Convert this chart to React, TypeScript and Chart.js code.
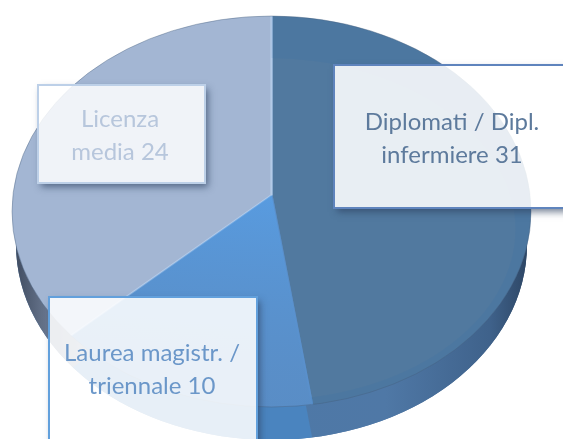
import React, { useEffect, useRef } from "react";
import { Chart, registerables } from "chart.js";

Chart.register(...registerables);

const categories = ["Diplomati / Dipl. infermiere", "Laurea magistr. / triennale", "Licenza media"];
const values = [31, 10, 24];
const labelLines = [
  ["Diplomati / Dipl.", "infermiere 31"],
  ["Laurea magistr. /", "triennale 10"],
  ["Licenza", "media 24"],
];
const topColors = ["#51799f", "#5a8ec8", "#a3b6d3"];
const borderColors = ["#5585b5", "#5a90cc", "#b4cbe8"];
const textColors = ["#5d7a9c", "#6b97c9", "#b7c6dc"];
const boxBorders = ["#5f84bd", "#62a0dc", "#bdd0e8"];
const boxAlpha = [0.87, 0.87, 0.84];
const boxes = [
  { x: 334, y: 65, w: 240, h: 143, tx: 452, ty: 122 },
  { x: 49, y: 297, w: 208, h: 160, tx: 152, ty: 353 },
  { x: 38, y: 85, w: 167, h: 98, tx: 120, ty: 119 },
];
const LINE_GAP = 33;
const G = { cx: 271.5, cy: 211.5, rx: 259.5, ry: 195.5, apexY: 195, depth: 33, sideRx: 255.5, over: 1.25 };

function sideFill(ctx: CanvasRenderingContext2D, i: number) {
  const g = ctx.createLinearGradient(G.cx - G.rx, 0, G.cx + G.rx, 0);
  if (i === 0) {
    g.addColorStop(0, "#4b78a8");
    g.addColorStop(0.72, "#4f78a6");
    g.addColorStop(0.92, "#3f628b");
    g.addColorStop(1, "#2c4462");
  } else if (i === 1) {
    g.addColorStop(0, "#4a84bf");
    g.addColorStop(1, "#4a84bf");
  } else {
    g.addColorStop(0, "#3c485c");
    g.addColorStop(0.07, "#6a7890");
    g.addColorStop(0.2, "#8c9bb4");
    g.addColorStop(1, "#8c9bb4");
  }
  return g;
}

function applyFace(ctx: CanvasRenderingContext2D, arc: any, dy: number) {
  const k = G.over;
  ctx.translate(G.cx, G.apexY + dy);
  ctx.scale((G.rx * k) / arc.outerRadius, (G.ry * k) / arc.outerRadius);
  ctx.translate(-arc.x, -arc.y);
}

function sectorClip(ctx: CanvasRenderingContext2D, arc: any, dy: number) {
  ctx.save();
  applyFace(ctx, arc, dy);
  ctx.beginPath();
  ctx.moveTo(arc.x, arc.y);
  ctx.arc(arc.x, arc.y, arc.outerRadius, arc.startAngle, arc.endAngle);
  ctx.closePath();
  ctx.restore();
  ctx.clip();
}

const piePlugin = {
  id: "tiltedPie",
  beforeDatasetsDraw(chart: any) {
    const ctx: CanvasRenderingContext2D = chart.ctx;
    const arcs = chart.getDatasetMeta(0).data;
    ctx.save();
    ctx.beginPath();
    ctx.ellipse(G.cx, G.cy + G.depth, G.sideRx, G.ry, 0, 0, Math.PI * 2);
    ctx.clip();
    ctx.fillStyle = sideFill(ctx, 0);
    ctx.fillRect(0, 0, 563, 480);
    arcs.forEach((arc: any, i: number) => {
      ctx.save();
      sectorClip(ctx, arc, G.depth);
      ctx.fillStyle = sideFill(ctx, i);
      ctx.fillRect(0, 0, 563, 480);
      ctx.restore();
    });
    ctx.restore();
    ctx.save();
    ctx.beginPath();
    ctx.ellipse(G.cx, G.cy, G.rx, G.ry, 0, 0, Math.PI * 2);
    ctx.clip();
    applyFace(ctx, arcs[0], 0);
  },
  afterDatasetsDraw(chart: any) {
    const ctx: CanvasRenderingContext2D = chart.ctx;
    const arcs = chart.getDatasetMeta(0).data;
    ctx.restore();

    ctx.save();
    ctx.beginPath();
    ctx.ellipse(G.cx, G.cy, G.rx, G.ry, 0, 0, Math.PI * 2);
    ctx.clip();
    ctx.save();
    sectorClip(ctx, arcs[0], 0);
    ctx.beginPath();
    ctx.rect(0, 0, 563, 439);
    ctx.ellipse(G.cx - 4, 229, 248, 171, 0, 0, Math.PI * 2);
    ctx.fillStyle = "rgba(40,110,175,0.1)";
    ctx.fill("evenodd");
    ctx.restore();
    ctx.save();
    sectorClip(ctx, arcs[1], 0);
    const rg = ctx.createLinearGradient(G.cx, G.apexY, G.cx - 20, 400);
    rg.addColorStop(0, "rgba(88,160,232,0.75)");
    rg.addColorStop(1, "rgba(88,140,195,0.35)");
    ctx.fillStyle = rg;
    ctx.fillRect(0, 0, 563, 439);
    ctx.restore();
    ctx.restore();

    ctx.save();
    ctx.beginPath();
    ctx.ellipse(G.cx, G.cy, G.rx, G.ry, 0, 0, Math.PI * 2);
    ctx.strokeStyle = "rgba(70,95,125,0.4)";
    ctx.lineWidth = 1;
    ctx.stroke();
    ctx.restore();
  },
  afterDraw(chart: any) {
    const ctx: CanvasRenderingContext2D = chart.ctx;
    boxes.forEach((b, i) => {
      ctx.save();
      ctx.beginPath();
      ctx.rect(0, 0, 563, 439);
      ctx.rect(b.x, b.y, b.w, b.h);
      ctx.clip("evenodd");
      ctx.shadowColor = "rgba(45,65,95,0.65)";
      ctx.shadowBlur = 7;
      ctx.shadowOffsetX = 3;
      ctx.shadowOffsetY = 4;
      ctx.fillStyle = "#fff";
      ctx.fillRect(b.x, b.y, b.w, b.h);
      ctx.restore();

      ctx.fillStyle = `rgba(255,255,255,${boxAlpha[i]})`;
      ctx.fillRect(b.x, b.y, b.w, b.h);
      ctx.strokeStyle = boxBorders[i];
      ctx.lineWidth = 2;
      ctx.strokeRect(b.x, b.y, b.w, b.h);

      ctx.fillStyle = textColors[i];
      ctx.font = "24px Lato";
      ctx.textAlign = "center";
      ctx.textBaseline = "middle";
      labelLines[i].forEach((line, j) => ctx.fillText(line, b.tx, b.ty + j * LINE_GAP));
    });
  },
};

export default function App() {
  const ref = useRef<HTMLCanvasElement>(null);
  useEffect(() => {
    document.body.style.margin = "0";
    document.body.style.overflow = "hidden";
    const chart = new Chart(ref.current!, {
      type: "pie",
      data: {
        labels: categories,
        datasets: [
          {
            data: values,
            backgroundColor: topColors,
            borderColor: borderColors,
            borderWidth: 1.5,
            clip: false,
          } as any,
        ],
      },
      options: {
        responsive: false,
        animation: false,
        plugins: { legend: { display: false }, tooltip: { enabled: false } },
      },
      plugins: [piePlugin],
    });
    return () => chart.destroy();
  }, []);
  return <canvas ref={ref} width={563} height={439} style={{ display: "block" }} />;
}
